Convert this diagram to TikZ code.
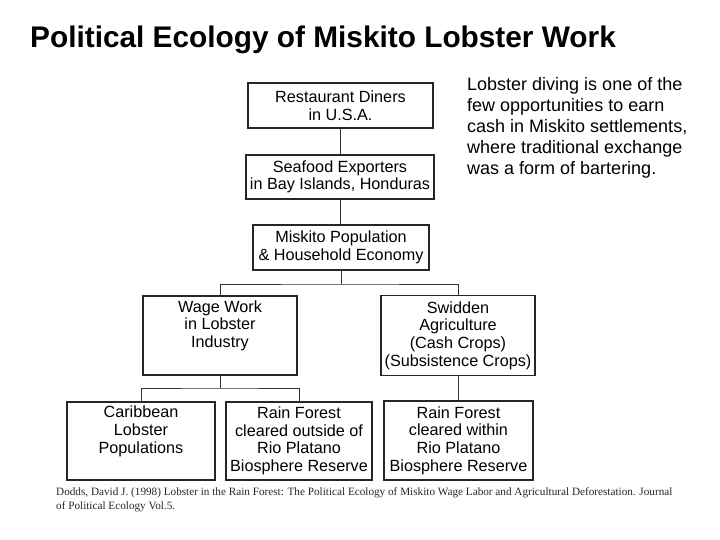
\documentclass[tikz,border=0pt]{standalone}
\usepackage{fontspec}
\setmainfont{Liberation Sans}
\newfontfamily\citefont{Liberation Serif}
\begin{document}
\begin{tikzpicture}[x=1pt,y=-1pt,
  box/.style={draw=black!85, line width=1.3pt, inner sep=0pt, align=center,
    font=\fontsize{16.2}{17.6}\selectfont, text=black},
  link/.style={draw=black!80, line width=1pt}]
\useasboundingbox (0,0) rectangle (720,540);
\node[anchor=base west, inner sep=0pt, font=\bfseries\fontsize{29.8}{31}\selectfont] (title) at (30,48) {Political Ecology of Miskito Lobster Work};

\node[box, minimum width=185pt, minimum height=45pt] (A) at (340.5,105.5) {Restaurant Diners\\in U.S.A.};
\node[box, minimum width=188pt, minimum height=44pt] (B) at (340,177) {Seafood Exporters\\in Bay Islands, Honduras};
\node[box, minimum width=176pt, minimum height=45pt] (C) at (341,247.5) {Miskito Population\\\& Household Economy};
\node[box, minimum width=154pt, minimum height=79pt] (D) at (220,335.5) {Wage Work\\in Lobster\\Industry\\\strut};
\node[box, minimum width=154pt, minimum height=80pt] (E) at (458,335.5) {Swidden\\Agriculture\\(Cash Crops)\\(Subsistence Crops)};
\node[box, minimum width=148pt, minimum height=78pt] (F) at (141,441) {Caribbean\\Lobster\\Populations\\\strut};
\node[box, minimum width=146pt, minimum height=78pt] (G) at (299,441) {Rain Forest\\cleared outside of\\Rio Platano\\Biosphere Reserve};
\node[box, minimum width=149pt, minimum height=79pt] (H) at (458.5,440.5) {Rain Forest\\cleared within\\Rio Platano\\Biosphere Reserve};

\coordinate (j1) at (341,284);
\coordinate (j2) at (220,388);
\draw[link] (A.south) -- (A.south |- B.north);
\draw[link] (B.south) -- (B.south |- C.north);
\draw[link] (C.south) -- (j1);
\draw[link] (D.north) |- (j1) -| (E.north);
\draw[link] (D.south) -- (j2);
\draw[link] (F.north) |- (j2) -| (G.north);
\draw[link] (E.south) -- (E.south |- H.north);

\node[anchor=north west, inner sep=0pt, align=left, font=\fontsize{18}{21}\selectfont, text=black] (note) at (467,77)
  {Lobster diving is one of the\\few opportunities to earn\\cash in Miskito settlements,\\where traditional exchange\\was a form of bartering.};

\node[anchor=base west, inner sep=0pt, align=left, font=\citefont\fontsize{11.2}{14}\selectfont, text=black!85] (cite) at (56,509)
  {Dodds, David J. (1998) Lobster in the Rain Forest: The Political Ecology of Miskito Wage Labor and Agricultural Deforestation. Journal\\of Political Ecology Vol.5.};
\end{tikzpicture}
\end{document}
